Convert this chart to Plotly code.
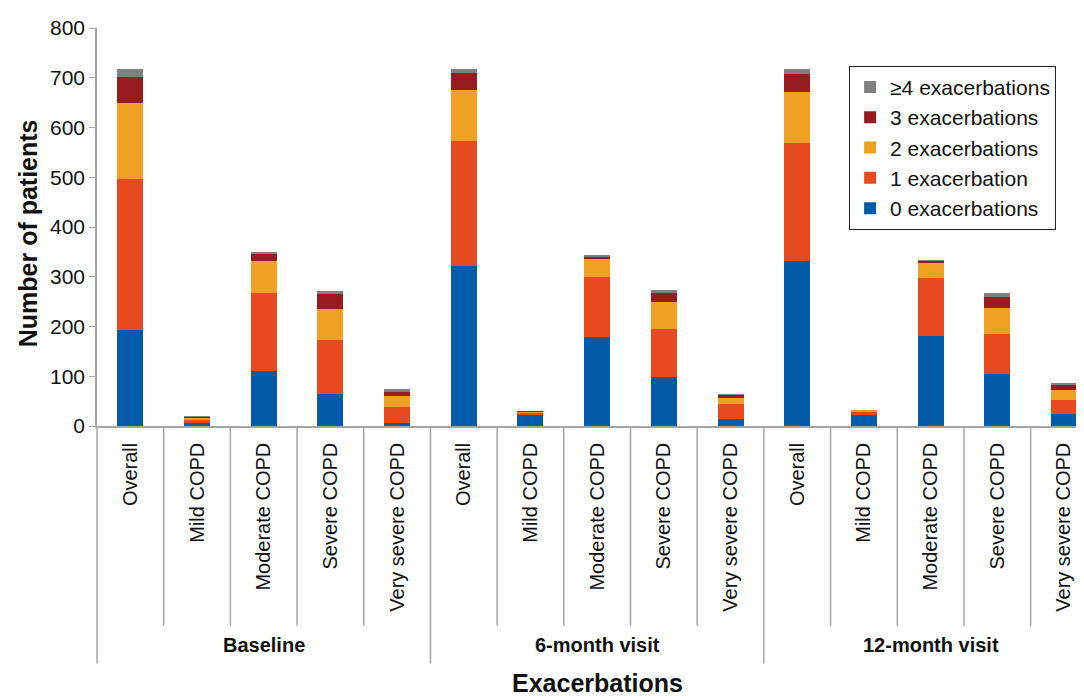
import plotly.graph_objects as go

categories = ["Overall", "Mild COPD", "Moderate COPD", "Severe COPD", "Very severe COPD"] * 3
groups = ["Baseline", "6-month visit", "12-month visit"]

zero_exac = [193, 6, 110, 64, 7, 321, 23, 178, 99, 15, 331, 22, 180, 104, 24]
one_exac = [303, 8, 158, 109, 32, 251, 4, 122, 95, 29, 237, 8, 117, 81, 29]
two_exac = [153, 4, 63, 63, 21, 104, 2, 35, 55, 13, 104, 1, 30, 53, 19]
three_exac = [52, 1, 16, 30, 9, 34, 1, 6, 19, 6, 35, 0, 5, 21, 12]
four_plus_exac = [17, 1, 1, 6, 5, 8, 0, 1, 6, 1, 11, 0, 1, 9, 2]

series = [
    ("0 exacerbations", zero_exac, "#045ca8"),
    ("1 exacerbation", one_exac, "#e84a1f"),
    ("2 exacerbations", two_exac, "#f0a024"),
    ("3 exacerbations", three_exac, "#971c1f"),
    ("\u22654 exacerbations", four_plus_exac, "#808080"),
]

FONT = "Arial, Liberation Sans, sans-serif"
x_idx = list(range(len(categories)))
XMIN, XMAX = -0.5, 14.3

fig = go.Figure()
for name, vals, col in series:
    fig.add_trace(go.Bar(x=x_idx, y=vals, name=name, marker=dict(color=col, line=dict(width=0)),
                         width=0.39))

def px(xv):
    return (xv - XMIN) / (XMAX - XMIN)

shapes = []
n = len(categories)
for k in range(n):
    b = k + 0.5
    if b > XMAX:
        continue
    is_group = (k + 1) % 5 == 0
    shapes.append(dict(type="line", xref="paper", yref="paper", x0=px(b), x1=px(b),
                       y0=0, y1=-0.597 if is_group else -0.502,
                       line=dict(color="#a6a6a6", width=1.5)))
shapes.append(dict(type="line", xref="paper", yref="paper", x0=0, x1=0, y0=0, y1=-0.597,
                   line=dict(color="#a6a6a6", width=1.5)))

annotations = []
for gi, g in enumerate(groups):
    annotations.append(dict(text="<b>%s</b>" % g, x=gi * 5 + 2, xref="x", y=-0.55, yref="paper",
                            showarrow=False, font=dict(size=20, color="#111", family=FONT),
                            xanchor="center", yanchor="middle"))
annotations.append(dict(text="<b>Exacerbations</b>", x=7, xref="x", y=-0.645, yref="paper",
                        showarrow=False, font=dict(size=25, color="#111", family=FONT),
                        xanchor="center", yanchor="middle"))
annotations.append(dict(text="<b>Number of patients</b>", x=-0.07, xref="paper", y=0.484, yref="paper",
                        showarrow=False, textangle=-90, font=dict(size=25, color="#111", family=FONT),
                        xanchor="center", yanchor="middle"))

fig.update_layout(
    width=1084, height=696,
    margin=dict(l=89, r=8, t=11, b=278),
    paper_bgcolor="white", plot_bgcolor="white",
    barmode="stack",
    font=dict(family=FONT, size=20, color="#111"),
    showlegend=True,
    legend=dict(x=0.762, y=0.905, xanchor="left", yanchor="top", traceorder="reversed",
                bordercolor="#222", borderwidth=1, bgcolor="white",
                font=dict(size=21, color="#111", family=FONT), itemsizing="constant"),
    xaxis=dict(range=[XMIN, XMAX], tickmode="array", tickvals=x_idx, ticktext=categories,
               tickangle=-90, showline=True, linecolor="#a6a6a6", linewidth=1.5,
               ticks="", showgrid=False, zeroline=False, tickfont=dict(size=20),
               ticklabelstandoff=7),
    yaxis=dict(range=[0, 800], dtick=100, showline=True, linecolor="#a6a6a6", linewidth=1.5,
               ticks="outside", ticklen=6, tickcolor="#a6a6a6", showgrid=False, zeroline=False,
               tickfont=dict(size=21), ticklabeloverflow="allow"),
    shapes=shapes,
    annotations=annotations,
)

fig.write_html("out.html")
